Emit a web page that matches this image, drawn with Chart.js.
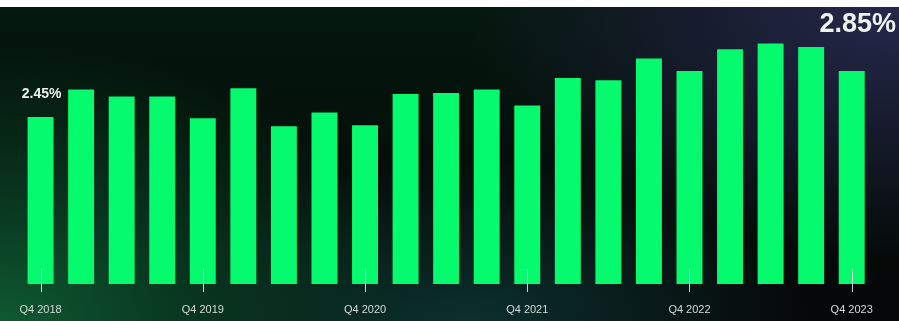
<!DOCTYPE html>
<html>
<head>
<meta charset="utf-8">
<script src="https://cdn.jsdelivr.net/npm/chart.js@4.4.0/dist/chart.umd.min.js"></script>
<style>
  html, body { margin: 0; padding: 0; background: #fff; }
  .wrap {
    position: relative;
    width: 899px;
    height: 321px;
    overflow: hidden;
    background: #fff;
  }
  .panel {
    position: absolute;
    left: 0; top: 7px;
    width: 899px; height: 314px;
    background:
      radial-gradient(ellipse 60% 110% at 0% 100%, rgba(14, 90, 50, 1) 0%, rgba(9, 64, 36, 0.8) 35%, rgba(5, 34, 20, 0) 80%),
      radial-gradient(ellipse 45% 60% at 52% 100%, rgba(12, 62, 58, 0.75) 0%, rgba(10, 40, 40, 0) 85%),
      radial-gradient(ellipse 60% 100% at 100% 0%, rgba(38, 40, 76, 1) 0%, rgba(27, 29, 54, 0.75) 40%, rgba(15, 16, 30, 0) 80%),
      linear-gradient(180deg, #04180d 0%, #050c09 60%, #060708 100%);
  }
  canvas { position: absolute; left: 0; top: 0; }
</style>
</head>
<body>
<div class="wrap">
  <div class="panel"></div>
  <canvas id="chart" width="899" height="321"></canvas>
</div>
<script>
// quarters, Q4 2018 .. Q4 2023
const quarters = [
  'Q4 2018', 'Q1 2019', 'Q2 2019', 'Q3 2019',
  'Q4 2019', 'Q1 2020', 'Q2 2020', 'Q3 2020',
  'Q4 2020', 'Q1 2021', 'Q2 2021', 'Q3 2021',
  'Q4 2021', 'Q1 2022', 'Q2 2022', 'Q3 2022',
  'Q4 2022', 'Q1 2023', 'Q2 2023', 'Q3 2023',
  'Q4 2023'
];
// percent values
const rates = [
  2.45, 2.69, 2.63, 2.63,
  2.44, 2.70, 2.37, 2.49,
  2.38, 2.65, 2.66, 2.69,
  2.55, 2.79, 2.77, 2.96,
  2.85, 3.04, 3.09, 3.06,
  2.85
];
const yMin = 1.0;
const yMax = 3.12;

const barGreen = '#05fa6e';

// white tick marks under the Q4 bars + the first / last value callouts
const markersPlugin = {
  id: 'markers',
  afterDatasetsDraw(chart) {
    const ctx = chart.ctx;
    const x = chart.scales.x;
    const y = chart.scales.y;
    const bottom = chart.chartArea.bottom;

    ctx.save();
    ctx.strokeStyle = 'rgba(235, 245, 240, 0.85)';
    ctx.lineWidth = 1;
    quarters.forEach((q, i) => {
      if (!q.startsWith('Q4')) return;
      const px = Math.round(x.getPixelForValue(i)) + 0.5;
      ctx.beginPath();
      ctx.moveTo(px, bottom - 15);
      ctx.lineTo(px, bottom + 8);
      ctx.stroke();
    });

    ctx.fillStyle = '#eef2ef';
    ctx.textBaseline = 'middle';

    // first value, above the first bar
    ctx.font = 'bold 14px "Liberation Sans", Arial, sans-serif';
    ctx.textAlign = 'center';
    const firstX = x.getPixelForValue(0) + 1;
    const firstY = y.getPixelForValue(rates[0]) - 23;
    ctx.fillText(rates[0].toFixed(2) + '%', firstX, firstY);

    // last value, top right corner
    ctx.font = 'bold 27px "Liberation Sans", Arial, sans-serif';
    ctx.textAlign = 'right';
    ctx.fillText(rates[rates.length - 1].toFixed(2) + '%', chart.width - 3, 25);
    ctx.restore();
  }
};

new Chart(document.getElementById('chart'), {
  type: 'bar',
  data: {
    labels: quarters,
    datasets: [{
      data: rates,
      backgroundColor: barGreen,
      borderWidth: 0,
      barPercentage: 0.64,
      categoryPercentage: 1.0
    }]
  },
  options: {
    responsive: false,
    animation: false,
    layout: {
      padding: { left: 19, right: 27, top: 40, bottom: 6 }
    },
    scales: {
      x: {
        grid: { display: false, drawTicks: false },
        border: { display: false },
        afterFit: (scale) => { scale.height = 31; },
        ticks: {
          autoSkip: false,
          maxRotation: 0,
          padding: 19,
          color: '#d3dbd6',
          font: { family: '"Liberation Sans", Arial, sans-serif', size: 11 },
          callback: (v, i) => quarters[i].startsWith('Q4') ? quarters[i] : ''
        }
      },
      y: {
        display: false,
        min: yMin,
        max: yMax
      }
    },
    plugins: {
      legend: { display: false },
      tooltip: { enabled: false }
    }
  },
  plugins: [markersPlugin]
});
</script>
</body>
</html>
